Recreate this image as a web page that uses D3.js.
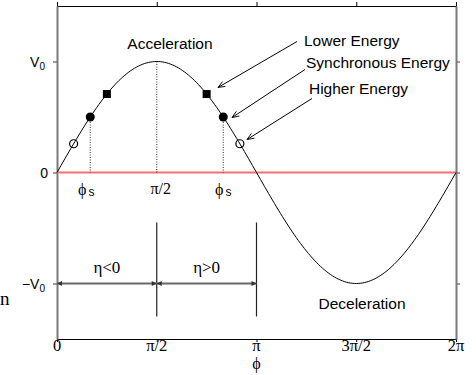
<!DOCTYPE html>
<html><head><meta charset="utf-8">
<script src="https://cdn.jsdelivr.net/npm/d3@7"></script>
<style>body{margin:0;background:#fff}svg{display:block}</style>
</head><body>
<svg id="c" width="476" height="375"></svg>
<script>
const PI = Math.PI;
// phase axis ticks
const phaseTicks = [0, PI/2, PI, 3*PI/2, 2*PI];
const phaseTickLabels = ["0", "π/2", "π", "3π/2", "2π"];
// voltage axis ticks (in units of V0)
const voltTicks = [1, 0, -1];
const voltTickLabels = ["V0", "0", "−V0"];
// RF voltage curve: V = V0 sin(phi)
const curveN = 200;
const curvePhases = d3.range(curveN + 1).map(i => i * 2 * PI / curveN);
const curveValues = curvePhases.map(p => Math.sin(p));
// particle markers
const lowerPhases = [PI/4, 3*PI/4];
const lowerValues = [0.707, 0.707];
const syncPhases = [PI/6, 5*PI/6];
const syncValues = [0.5, 0.5];
const higherPhases = [PI/12, 11*PI/12];
const higherValues = [0.259, 0.259];
// annotations
const annoTexts = ["Lower Energy", "Synchronous Energy", "Higher Energy"];
const annoTextPhase = [3.889, 3.921, 3.968];
const annoTextValue = [1.138, 0.937, 0.703];
const arrowTailPhase = [3.779, 3.905, 4.016];
const arrowTailValue = [1.180, 0.928, 0.667];
const arrowHeadPhase = [2.535, 2.756, 2.992];
const arrowHeadValue = [0.766, 0.495, 0.297];
const regionLabels = ["Acceleration", "Deceleration"];
const regionPhase = [1.779, 4.803];
const regionValue = [1.117, -1.234];
const etaLabels = ["η<0", "η>0"];
const etaBounds = [0, PI/2, PI];

const svg = d3.select("#c");
const x = d3.scaleLinear().domain([0, 2*PI]).range([57, 456]);
const y = d3.scaleLinear().domain([-1.5, 1.5]).range([339, 6]);
const sans = "'Liberation Sans', Arial, sans-serif";
const serif = "'Liberation Serif', 'Times New Roman', serif";

const defs = svg.append("defs");
defs.append("marker").attr("id","ah").attr("viewBox","0 0 10 10").attr("refX",10).attr("refY",5)
  .attr("markerWidth",9).attr("markerHeight",7).attr("markerUnits","userSpaceOnUse").attr("orient","auto")
  .append("path").attr("d","M0,1 L10,5 L0,9").attr("fill","none").attr("stroke","#000").attr("stroke-width",1.2);
defs.append("marker").attr("id","gh").attr("viewBox","0 0 10 10").attr("refX",10).attr("refY",5)
  .attr("markerWidth",6).attr("markerHeight",5).attr("markerUnits","userSpaceOnUse").attr("orient","auto-start-reverse")
  .append("path").attr("d","M0,0 L10,5 L0,10 Z").attr("fill","#333");

// frame axes
const gray = "#7a7a7a";
svg.append("g").attr("transform",`translate(0,${y(1.5)})`)
  .call(d3.axisTop(x).tickValues(phaseTicks).tickSize(4).tickFormat(""))
  .call(g=>{g.select(".domain").attr("stroke","#000");g.selectAll("line").attr("stroke","#000");});
svg.append("g").attr("transform",`translate(0,${y(-1.5)})`)
  .call(d3.axisBottom(x).tickValues(phaseTicks).tickSize(3).tickSizeOuter(0).tickFormat(""))
  .call(g=>{g.select(".domain").attr("stroke","#000");g.selectAll("line").attr("stroke","#000");});
svg.append("g").attr("transform",`translate(${x(0)},0)`)
  .call(d3.axisLeft(y).tickValues(voltTicks).tickSize(4).tickSizeOuter(0).tickFormat(""))
  .call(g=>{g.select(".domain").attr("stroke",gray).attr("stroke-width",2);g.selectAll("line").attr("stroke",gray).attr("stroke-width",1.5);});
svg.append("g").attr("transform",`translate(${x(2*PI)},0)`)
  .call(d3.axisRight(y).tickValues(voltTicks).tickSize(4).tickSizeOuter(0).tickFormat(""))
  .call(g=>{g.select(".domain").attr("stroke",gray).attr("stroke-width",2);g.selectAll("line").attr("stroke",gray).attr("stroke-width",1.5);});

// bottom tick labels
svg.append("g").selectAll("text").data(phaseTicks).join("text")
  .attr("x",d=>x(d)).attr("y",y(-1.5)+12).attr("text-anchor","middle")
  .attr("font-family",serif).attr("font-size",16.5).text((d,i)=>phaseTickLabels[i]);
svg.append("text").attr("x",x(PI)).attr("y",y(-1.5)+30).attr("text-anchor","middle")
  .attr("font-family",serif).attr("font-size",16).text("ϕ");

// y tick labels
voltTicks.forEach((v,i)=>{
  const lab = voltTickLabels[i];
  const t = svg.append("text").attr("y",y(v)+5).attr("font-family",sans).attr("font-size",14).attr("text-anchor","end");
  if (lab.endsWith("V0")) {
    t.attr("x",45);
    t.append("tspan").text(lab.slice(0,-1));
    t.append("tspan").attr("font-size",10).attr("dy",3).text("0");
  } else {
    t.attr("x",48).text(lab);
  }
});
svg.append("text").attr("x",0).attr("y",305).attr("font-family",serif).attr("font-size",19).text("n");

// zero line
svg.append("line").attr("x1",x(0)).attr("x2",x(2*PI)).attr("y1",y(0)).attr("y2",y(0))
  .attr("stroke","#f47070").attr("stroke-width",2);

// dotted guides
const guides = [syncPhases[0], PI/2, syncPhases[1]];
const guideTops = [syncValues[0], 1, syncValues[1]];
svg.append("g").selectAll("line").data(guides).join("line")
  .attr("x1",d=>x(d)).attr("x2",d=>x(d)).attr("y1",(d,i)=>y(guideTops[i])).attr("y2",y(0))
  .attr("stroke","#333").attr("stroke-width",1).attr("stroke-dasharray","1,1.5");

// curve
svg.append("path").datum(curvePhases.map((p,i)=>[p,curveValues[i]]))
  .attr("d", d3.line().x(d=>x(d[0])).y(d=>y(d[1])))
  .attr("fill","none").attr("stroke","#000").attr("stroke-width",1);

// markers
svg.append("g").selectAll("rect").data(lowerPhases).join("rect")
  .attr("x",d=>x(d)-4).attr("y",(d,i)=>y(lowerValues[i])-4).attr("width",8).attr("height",8).attr("fill","#000");
svg.append("g").selectAll("circle").data(syncPhases).join("circle")
  .attr("cx",d=>x(d)).attr("cy",(d,i)=>y(syncValues[i])).attr("r",4.5).attr("fill","#000");
svg.append("g").selectAll("circle").data(higherPhases).join("circle")
  .attr("cx",d=>x(d)).attr("cy",(d,i)=>y(higherValues[i])).attr("r",4).attr("fill","none").attr("stroke","#000").attr("stroke-width",1.2);

// phi_s and pi/2 labels below zero line
const phiLabelPhase = [0.331, 2.488];
phiLabelPhase.forEach(p=>{
  const t = svg.append("text").attr("x",x(p)).attr("y",y(0)+22);
  t.append("tspan").attr("font-family",serif).attr("font-size",16).text("ϕ");
  t.append("tspan").attr("font-family",sans).attr("font-size",12).attr("dx",2).attr("dy",1).text("s");
});
svg.append("text").attr("x",x(PI/2)+4).attr("y",y(0)+21).attr("text-anchor","middle")
  .attr("font-family",serif).attr("font-size",16).text("π/2");

// annotations
annoTexts.forEach((s,i)=>{
  svg.append("text").attr("x",x(annoTextPhase[i])).attr("y",y(annoTextValue[i]))
    .attr("font-family",sans).attr("font-size",15.5).text(s);
  svg.append("line").attr("x1",x(arrowTailPhase[i])).attr("y1",y(arrowTailValue[i]))
    .attr("x2",x(arrowHeadPhase[i])).attr("y2",y(arrowHeadValue[i]))
    .attr("stroke","#000").attr("stroke-width",1).attr("marker-end","url(#ah)");
});
regionLabels.forEach((s,i)=>{
  svg.append("text").attr("x",x(regionPhase[i])).attr("y",y(regionValue[i])).attr("text-anchor","middle")
    .attr("font-family",sans).attr("font-size",15.5).text(s);
});

// eta region markers
[PI/2, PI].forEach(p=>{
  svg.append("line").attr("x1",x(p)).attr("x2",x(p)).attr("y1",y(-0.45)).attr("y2",y(-1.297))
    .attr("stroke","#222").attr("stroke-width",1.2);
});
etaLabels.forEach((s,i)=>{
  const a = etaBounds[i], b = etaBounds[i+1];
  svg.append("line").attr("x1",x(a)).attr("x2",x(b)).attr("y1",y(-1)).attr("y2",y(-1))
    .attr("stroke","#666").attr("stroke-width",2).attr("marker-start","url(#gh)").attr("marker-end","url(#gh)");
  svg.append("text").attr("x",(x(a)+x(b))/2).attr("y",y(-1)-11).attr("text-anchor","middle")
    .attr("font-family",serif).attr("font-size",17).text(s);
});
</script>
</body></html>
